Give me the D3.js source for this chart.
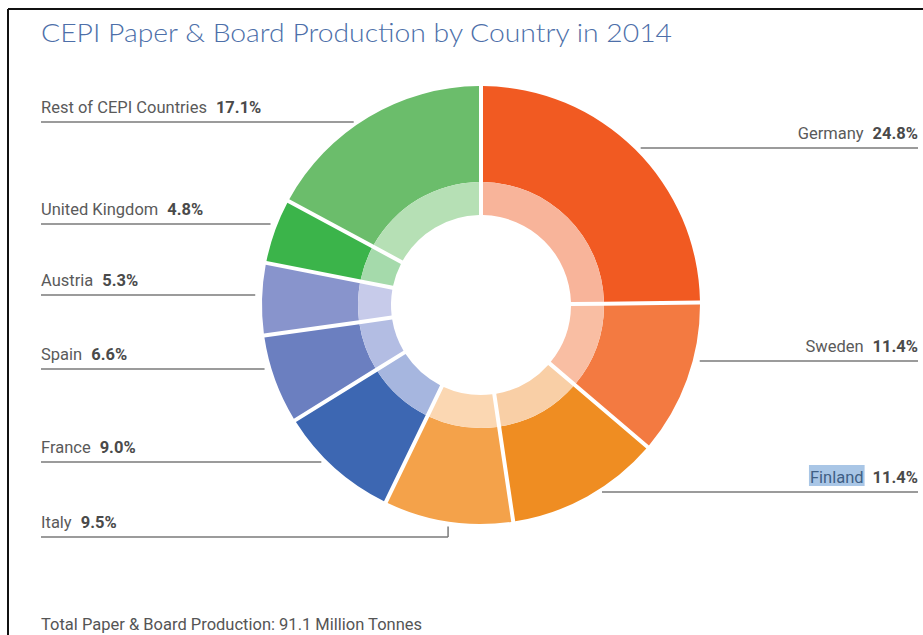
<!DOCTYPE html>
<html>
<head>
<meta charset="utf-8">
<script src="https://cdn.jsdelivr.net/npm/d3@7"></script>
<style>
  body { margin: 0; background: #fff; }
  svg { display: block; }
</style>
</head>
<body>
<div id="graf"></div>
<script>
// datos
const paises = ["Germany", "Sweden", "Finland", "Italy", "France", "Spain", "Austria", "United Kingdom", "Rest of CEPI Countries"]
const valores = [24.8, 11.4, 11.4, 9.5, 9.0, 6.6, 5.3, 4.8, 17.1]
const etiquetas = ["24.8%", "11.4%", "11.4%", "9.5%", "9.0%", "6.6%", "5.3%", "4.8%", "17.1%"]
const coloresFuertes = ["#f15a22", "#f37a41", "#ef8d22", "#f4a24a", "#3d67b2", "#6b7fc0", "#8894cc", "#3bb44a", "#6bbd6b"]
const coloresSuaves = ["#f8b49a", "#f9bea3", "#f9cfa6", "#fbd7b2", "#a6b6df", "#b3bde3", "#c7cbea", "#a5daab", "#b6e0b5"]
const titulo = "CEPI Paper & Board Production by Country in 2014"
const pie_texto = "Total Paper & Board Production: 91.1 Million Tonnes"

// layout de etiquetas (y de la linea, lado)
const lineaY = [148, 361, 492, 537, 462, 369, 295, 224, 122]
const lado = ["r", "r", "r", "l", "l", "l", "l", "l", "l"]

const anchoTotal = 923
const altoTotal = 635
const cx = 481
const cy = 305
const rOut = 219
const rMid = 123
const rIn = 90

const svg = d3.select("#graf")
  .append("svg")
  .attr("width", anchoTotal)
  .attr("height", altoTotal)

// marco
svg.append("line").attr("x1", 8).attr("x2", anchoTotal).attr("y1", 9).attr("y2", 9)
  .attr("stroke", "#111").attr("stroke-width", 2)
svg.append("line").attr("x1", 8).attr("x2", 8).attr("y1", 9).attr("y2", altoTotal)
  .attr("stroke", "#111").attr("stroke-width", 2)

svg.append("text")
  .attr("x", 41).attr("y", 42)
  .attr("font-family", "Lato, 'Open Sans', sans-serif")
  .attr("font-weight", 300)
  .attr("font-size", 26)
  .attr("fill", "#4d6fa9")
  .attr("textLength", 631)
  .attr("lengthAdjust", "spacingAndGlyphs")
  .text(titulo)

const data = paises.map((p, i) => ({ pais: p, valor: valores[i], etiqueta: etiquetas[i], i: i }))

const pie = d3.pie().sort(null).value((d) => d.valor)
const arcos = pie(data)

const arcoFuera = d3.arc().innerRadius(rMid).outerRadius(rOut).padRadius(rOut).padAngle(4 / rOut)
const arcoDentro = d3.arc().innerRadius(rIn).outerRadius(rMid).padRadius(rOut).padAngle(4 / rOut)

const g = svg.append("g").attr("transform", `translate(${cx}, ${cy})`)

g.selectAll("path.fuera")
  .data(arcos)
  .enter()
  .append("path")
  .attr("class", "fuera")
  .attr("d", arcoFuera)
  .attr("fill", (d) => coloresFuertes[d.data.i])

g.selectAll("path.dentro")
  .data(arcos)
  .enter()
  .append("path")
  .attr("class", "dentro")
  .attr("d", arcoDentro)
  .attr("fill", (d) => coloresSuaves[d.data.i])

// etiquetas
const fuente = "Roboto, 'Liberation Sans', sans-serif"
const gap = 7

arcos.forEach((a) => {
  const i = a.data.i
  const y = lineaY[i]
  const dy = y - cy
  let xEnd
  let tick = null
  if (Math.abs(dy) < rOut) {
    const dx = Math.sqrt(rOut * rOut - dy * dy)
    xEnd = lado[i] === "l" ? cx - dx - gap : cx + dx + gap
  } else {
    const mid = (a.startAngle + a.endAngle) / 2
    xEnd = cx + rOut * Math.sin(mid)
    const yArc = cy + Math.sqrt(rOut * rOut - (xEnd - cx) * (xEnd - cx))
    tick = yArc + 5
  }

  const x0 = lado[i] === "l" ? 41 : 918
  svg.append("line")
    .attr("x1", x0).attr("x2", xEnd)
    .attr("y1", y).attr("y2", y)
    .attr("stroke", "#7a7a7a").attr("stroke-width", 1.5)
  if (tick !== null) {
    svg.append("line")
      .attr("x1", xEnd).attr("x2", xEnd)
      .attr("y1", y).attr("y2", tick)
      .attr("stroke", "#7a7a7a").attr("stroke-width", 1.5)
  }

  const t = svg.append("text")
    .attr("x", x0).attr("y", y - 9)
    .attr("font-family", fuente)
    .attr("font-size", 16.5)
    .attr("fill", "#5a5a5a")
    .attr("text-anchor", lado[i] === "l" ? "start" : "end")
  const nombre = t.append("tspan").text(a.data.pais)
  t.append("tspan").attr("dx", 9).attr("font-weight", "bold").attr("fill", "#4a4a4a").text(a.data.etiqueta)

  // resaltado de seleccion en "Finland"
  if (a.data.pais === "Finland") {
    const n = t.node()
    const ext = n.getExtentOfChar(0)
    const last = n.getExtentOfChar(a.data.pais.length - 1)
    svg.insert("rect", "text")
      .attr("x", ext.x - 1)
      .attr("y", y - 27)
      .attr("width", last.x + last.width - ext.x + 2)
      .attr("height", 21)
      .attr("fill", "#a9c6e6")
    nombre.attr("fill", "#3f5f85")
  }
})

svg.append("text")
  .attr("x", 41).attr("y", 630)
  .attr("font-family", fuente)
  .attr("font-size", 16.5)
  .attr("fill", "#555")
  .text(pie_texto)
</script>
</body>
</html>
